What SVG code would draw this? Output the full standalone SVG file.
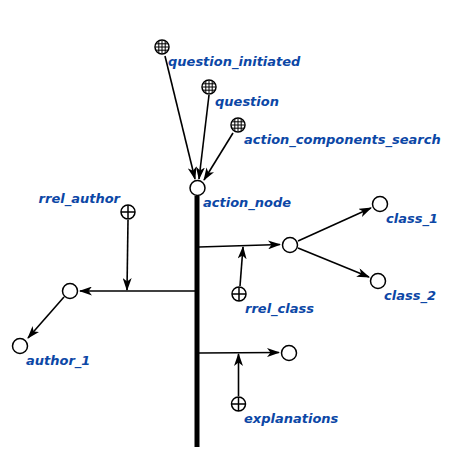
<svg xmlns="http://www.w3.org/2000/svg" width="458" height="472" viewBox="0 0 458 472">
<style>
.lbl{font-family:"DejaVu Sans",sans-serif;font-size:13px;font-weight:bold;font-style:italic;fill:#0c47a6}
.nd{fill:#fff;stroke:#000;stroke-width:1.5}
.ln{stroke:#000;stroke-width:1.6;fill:none}
</style>
<defs>
<marker id="ar" viewBox="0 0 13 9" refX="12" refY="4.5" markerWidth="13" markerHeight="9" markerUnits="userSpaceOnUse" orient="auto">
<path d="M0,0 L13,4.5 L0,9 L3.5,4.5 Z" fill="#000"/>
</marker>
<clipPath id="gc"><circle cx="0" cy="0" r="6.5"/></clipPath>
<g id="grid">
<circle cx="0" cy="0" r="7" fill="#fff"/>
<g clip-path="url(#gc)" stroke="#000" stroke-width="1">
<line x1="-7" y1="-3.2" x2="7" y2="-3.2"/><line x1="-7" y1="0" x2="7" y2="0"/><line x1="-7" y1="3.2" x2="7" y2="3.2"/>
<line y1="-7" x1="-3.2" y2="7" x2="-3.2"/><line y1="-7" x1="0" y2="7" x2="0"/><line y1="-7" x1="3.2" y2="7" x2="3.2"/>
</g>
<circle cx="0" cy="0" r="7" fill="none" stroke="#000" stroke-width="1.5"/>
</g>
<g id="plus">
<circle cx="0" cy="0" r="7" fill="#fff" stroke="#000" stroke-width="1.5"/>
<line x1="-7" y1="0" x2="7" y2="0" stroke="#000" stroke-width="1.5"/>
<line x1="0" y1="-7" x2="0" y2="7" stroke="#000" stroke-width="1.5"/>
</g>
</defs>
<rect width="458" height="472" fill="#fff"/>
<g id="connectors">
<line x1="197" y1="196" x2="197" y2="447" stroke="#000" stroke-width="5"/>
<line class="ln" x1="165" y1="56" x2="195" y2="179" marker-end="url(#ar)"/>
<line class="ln" x1="209" y1="95" x2="199" y2="179" marker-end="url(#ar)"/>
<line class="ln" x1="233" y1="133" x2="204" y2="180" marker-end="url(#ar)"/>
<line class="ln" x1="197" y1="291" x2="80" y2="291" marker-end="url(#ar)"/>
<line class="ln" x1="128" y1="220" x2="127" y2="290" marker-end="url(#ar)"/>
<line class="ln" x1="64" y1="297" x2="28" y2="338" marker-end="url(#ar)"/>
<line class="ln" x1="199" y1="247" x2="280" y2="244.5" marker-end="url(#ar)"/>
<line class="ln" x1="240" y1="286" x2="243" y2="247" marker-end="url(#ar)"/>
<line class="ln" x1="298" y1="241" x2="371" y2="208" marker-end="url(#ar)"/>
<line class="ln" x1="298" y1="248" x2="369" y2="277" marker-end="url(#ar)"/>
<line class="ln" x1="199" y1="353" x2="279" y2="352.5" marker-end="url(#ar)"/>
<line class="ln" x1="238.5" y1="396" x2="238.5" y2="354" marker-end="url(#ar)"/>
</g>
<g id="question_initiated"><use href="#grid" x="162" y="47"/><text class="lbl" x="168" y="66">question_initiated</text></g>
<g id="question"><use href="#grid" x="209" y="87"/><text class="lbl" x="215" y="106">question</text></g>
<g id="action_components_search"><use href="#grid" x="238" y="125"/><text class="lbl" x="244" y="144">action_components_search</text></g>
<g id="action_node"><circle class="nd" cx="197.5" cy="188" r="7.5"/><text class="lbl" x="203" y="207">action_node</text></g>
<g id="rrel_author"><use href="#plus" x="128" y="212"/><text class="lbl" x="120" y="203" text-anchor="end">rrel_author</text></g>
<g id="author_tuple"><circle class="nd" cx="70" cy="291" r="7.5"/></g>
<g id="author_1"><circle class="nd" cx="20" cy="346" r="7.5"/><text class="lbl" x="26" y="365">author_1</text></g>
<g id="class_tuple"><circle class="nd" cx="290" cy="245" r="7.5"/></g>
<g id="rrel_class"><use href="#plus" x="239" y="294"/><text class="lbl" x="245" y="313">rrel_class</text></g>
<g id="class_1"><circle class="nd" cx="380" cy="204" r="7.5"/><text class="lbl" x="386" y="223">class_1</text></g>
<g id="class_2"><circle class="nd" cx="378" cy="281" r="7.5"/><text class="lbl" x="384" y="300">class_2</text></g>
<g id="explanation_node"><circle class="nd" cx="289" cy="353" r="7.5"/></g>
<g id="explanations"><use href="#plus" x="238.5" y="404"/><text class="lbl" x="244" y="423">explanations</text></g>
</svg>
